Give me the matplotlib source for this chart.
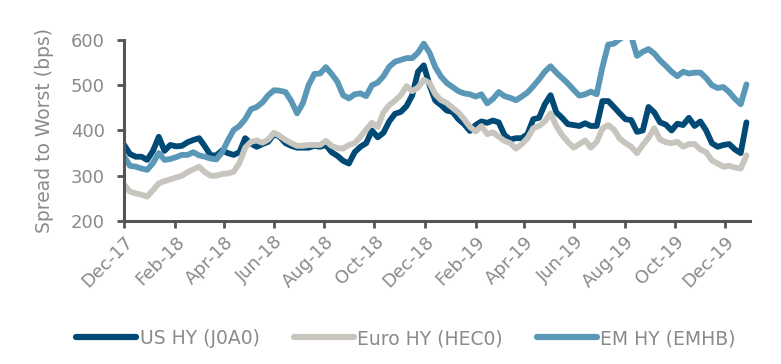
import numpy as np
import pandas as pd
import matplotlib
matplotlib.use("Agg")
import matplotlib.pyplot as plt
import matplotlib.dates as mdates

# weekly observations, Dec-17 .. Dec-19 (bps)
dates = pd.date_range("2017-12-01", periods=109, freq="7D")

us_hy = [368, 348, 342, 342, 335, 355, 386, 355, 368, 365,
         366, 374, 379, 383, 365, 345, 345, 356, 350, 346,
         352, 383, 371, 364, 370, 375, 392, 386, 372, 366,
         362, 362, 362, 366, 364, 368, 352, 344, 333, 327,
         352, 364, 372, 400, 385, 395, 420, 437, 441, 454,
         478, 530, 544, 500, 466, 456, 444, 441, 425, 414,
         399, 412, 420, 417, 422, 418, 390, 380, 383, 383,
         392, 425, 428, 458, 478, 440, 428, 414, 412, 410,
         416, 410, 410, 465, 465, 452, 438, 425, 423, 397,
         400, 452, 440, 418, 413, 400, 415, 412, 428, 410,
         420, 400, 372, 364, 368, 370, 358, 350, 418]

euro_hy = [280, 265, 261, 258, 254, 268, 283, 288, 292, 296,
           300, 308, 314, 320, 308, 300, 300, 304, 305, 309,
           328, 362, 375, 378, 373, 380, 395, 388, 379, 372,
           366, 366, 368, 368, 368, 377, 366, 361, 360, 368,
           372, 386, 402, 417, 408, 440, 456, 466, 478, 498,
           487, 495, 512, 505, 480, 467, 461, 450, 440, 425,
           408, 398, 410, 392, 396, 386, 377, 372, 360, 370,
           383, 405, 410, 420, 438, 410, 390, 375, 362, 370,
           378, 362, 375, 404, 412, 402, 382, 372, 364, 350,
           368, 384, 405, 380, 374, 372, 375, 364, 370, 370,
           358, 352, 334, 327, 320, 322, 318, 316, 345]

em_hy = [342, 322, 320, 316, 313, 328, 350, 335, 337, 341,
         346, 346, 352, 345, 342, 338, 336, 352, 378, 401,
         410, 425, 447, 452, 462, 478, 489, 488, 485, 465,
         438, 460, 500, 525, 526, 540, 525, 508, 478, 471,
         480, 482, 476, 500, 506, 520, 541, 552, 556, 560,
         560, 572, 592, 572, 540, 519, 505, 496, 487, 482,
         480, 475, 480, 460, 470, 485, 476, 472, 467, 475,
         484, 498, 513, 530, 542, 528, 516, 504, 490, 477,
         480, 486, 480, 540, 590, 592, 602, 610, 608, 565,
         574, 580, 570, 555, 543, 530, 520, 530, 526, 528,
         528, 516, 500, 494, 496, 485, 470, 458, 502]

series_names = ["US HY (J0A0)", "Euro HY (HEC0)", "EM HY (EMHB)"]
series_colors = ["#004a75", "#c8c5bf", "#5b98b8"]
text_grey = "#8a8a8a"
axis_grey = "#555555"

fig = plt.figure(figsize=(7.81, 3.64), dpi=100)
ax = fig.add_axes([0.159, 0.393, 0.801, 0.497])

for vals, name, col in zip([us_hy, euro_hy, em_hy], series_names, series_colors):
    ax.plot(dates, vals, color=col, lw=4.2, label=name, solid_capstyle="round")

ax.set_ylim(200, 600)
ax.set_yticks([200, 300, 400, 500, 600])
ax.set_xlim(pd.Timestamp("2017-12-01"), pd.Timestamp("2019-12-31"))
ax.xaxis.set_major_locator(mdates.MonthLocator(bymonth=[2, 4, 6, 8, 10, 12]))
ax.xaxis.set_major_formatter(mdates.DateFormatter("%b-%y"))

for s in ["top", "right"]:
    ax.spines[s].set_visible(False)
for s in ["left", "bottom"]:
    ax.spines[s].set_color(axis_grey)
    ax.spines[s].set_linewidth(2.2)

ax.tick_params(axis="both", colors=axis_grey, width=2, length=5,
               labelcolor=text_grey, labelsize=13)
ax.tick_params(axis="y", pad=9)
plt.setp(ax.get_xticklabels(), rotation=45, ha="right", rotation_mode="anchor")
ax.set_ylabel("Spread to Worst (bps)", color=text_grey, fontsize=13.5, labelpad=12)

leg = fig.legend(loc="center", bbox_to_anchor=(0.52, 0.07), ncol=3, frameon=False,
                 fontsize=13.5, handlelength=3.2, handletextpad=0.2, columnspacing=1.8)
for t in leg.get_texts():
    t.set_color(text_grey)
for h in leg.get_lines():
    h.set_linewidth(4.5)

fig.savefig("out.png", dpi=100, facecolor="white")
